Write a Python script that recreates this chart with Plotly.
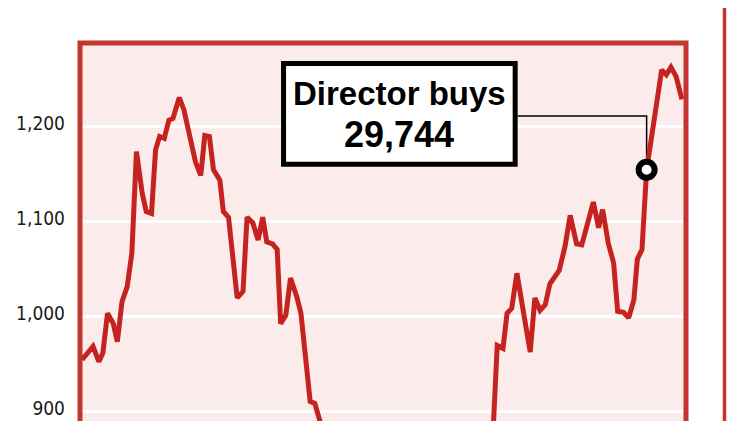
import plotly.graph_objects as go

# ---- data ----
weeks = [0, 1.9, 2.9, 3.6, 4.4, 5.4, 6.1, 6.9, 7.8, 8.6, 9.4, 10.4, 11.1, 12.0, 12.7,
         13.4, 14.2, 15.0, 15.7, 16.8, 17.6, 18.6, 19.6, 20.5, 21.2, 22.0, 22.7, 23.8,
         24.4, 25.3, 26.8, 27.8, 28.5, 29.5, 30.4, 31.2, 31.9, 32.9, 33.7, 34.3, 35.2,
         36.0, 37.1, 37.8, 39.4, 40.2, 41.1, 42.5, 45, 48, 51, 54, 57, 60, 63, 66, 69,
         71.0, 71.7, 72.7, 73.4, 74.2, 75.1, 76.1, 77.4, 78.2, 79.1, 80.0, 80.8, 82.4,
         83.4, 84.3, 85.4, 86.3, 87.2, 88.3, 89.2, 89.9, 90.9, 91.8, 92.5, 93.5, 94.4,
         95.3, 95.9, 96.7, 97.5, 100.1, 100.9, 101.7, 102.6, 103.6]
prices = [954, 968, 952, 961, 1003, 992, 973, 1015, 1031, 1066, 1173, 1129, 1110, 1108, 1175,
          1189, 1187, 1206, 1208, 1230, 1217, 1190, 1162, 1148, 1190, 1189, 1154, 1143,
          1110, 1104, 1019, 1026, 1104, 1098, 1080, 1104, 1078, 1076, 1070, 992, 1001,
          1040, 1020, 1003, 910, 908, 889, 860, 830, 800, 780, 760, 790, 770, 800, 830, 860,
          880, 969, 966, 1003, 1008, 1045, 1006, 962, 1019, 1006, 1012, 1034, 1048,
          1073, 1106, 1076, 1075, 1094, 1120, 1093, 1112, 1076, 1056, 1005, 1004, 998,
          1017, 1060, 1070, 1154, 1259, 1254, 1262, 1252, 1228]

buy_week = 97.5
buy_price = 1154
buy_title = "Director buys"
buy_amount = "29,744"

tick_vals = [900, 1000, 1100, 1200]
tick_text = ["900", "1,000", "1,100", "1,200"]

# ---- styling ----
RED = "#c4231f"
FRAME = "#c43431"
PINK = "#fcebeb"

fig = go.Figure()
fig.add_trace(go.Scatter(x=weeks, y=prices, mode="lines",
                         line=dict(color=RED, width=5), hoverinfo="skip"))
fig.add_trace(go.Scatter(x=[buy_week], y=[buy_price], mode="markers",
                         marker=dict(size=16, color="white",
                                     line=dict(color="black", width=6)),
                         hoverinfo="skip"))

# annotation box (data coords) and elbow connector
box_x0, box_x1, box_y0, box_y1 = 34.8, 74.8, 1159.8, 1265.8
conn_y = 1210.5
shapes = [
    dict(type="rect", xref="x", yref="y", x0=box_x0, x1=box_x1, y0=box_y0, y1=box_y1,
         fillcolor="white", line=dict(color="black", width=5), layer="above"),
    dict(type="path", xref="x", yref="y",
         path=f"M {box_x1 + 0.45},{conn_y} L {buy_week},{conn_y} L {buy_week},{buy_price}",
         line=dict(color="black", width=1.5), layer="between"),
    # red frame (left, top, right)
    dict(type="path", xref="paper", yref="paper", path="M 0,-0.1 L 0,1 L 1,1 L 1,-0.1",
         line=dict(color=FRAME, width=5), layer="above"),
    # vertical red rule on the right
    dict(type="line", xref="paper", yref="paper", x0=1.0635, x1=1.0635, y0=-0.1, y1=1.3,
         line=dict(color=FRAME, width=3.5), layer="above"),
]

annos = [
    dict(x=(box_x0 + box_x1) / 2, y=1234.7, xref="x", yref="y", text=buy_title,
         showarrow=False, xanchor="center", yanchor="middle",
         font=dict(family="Liberation Sans, Arial, sans-serif", size=33, color="black",
                   weight="bold")),
    dict(x=(box_x0 + box_x1) / 2, y=1191.6, xref="x", yref="y", text=buy_amount,
         showarrow=False, xanchor="center", yanchor="middle",
         font=dict(family="Liberation Sans, Arial, sans-serif", size=36, color="black",
                   weight="bold")),
]

# the page body adds an 8px offset, so the figure is 8px smaller with 8px smaller margins
fig.update_layout(
    width=742, height=413,
    margin=dict(l=72, r=64, t=35, b=0),
    paper_bgcolor="white", plot_bgcolor=PINK,
    showlegend=False,
    shapes=shapes, annotations=annos,
    xaxis=dict(range=[-0.35, 104.3], visible=False, fixedrange=True),
    yaxis=dict(range=[889.5, 1287.4], tickvals=tick_vals, ticktext=tick_text,
               showgrid=True, gridcolor="white", gridwidth=2.5, zeroline=False,
               showline=False, ticks="", ticklabelstandoff=14, ticklabelshift=-3,
               tickfont=dict(family="Liberation Sans Narrow, DejaVu Sans Condensed, Arial Narrow, Liberation Sans, sans-serif",
                             size=19, color="#1a1a1a"),
               fixedrange=True),
)

fig.write_html("out.html", config={"displayModeBar": False})
